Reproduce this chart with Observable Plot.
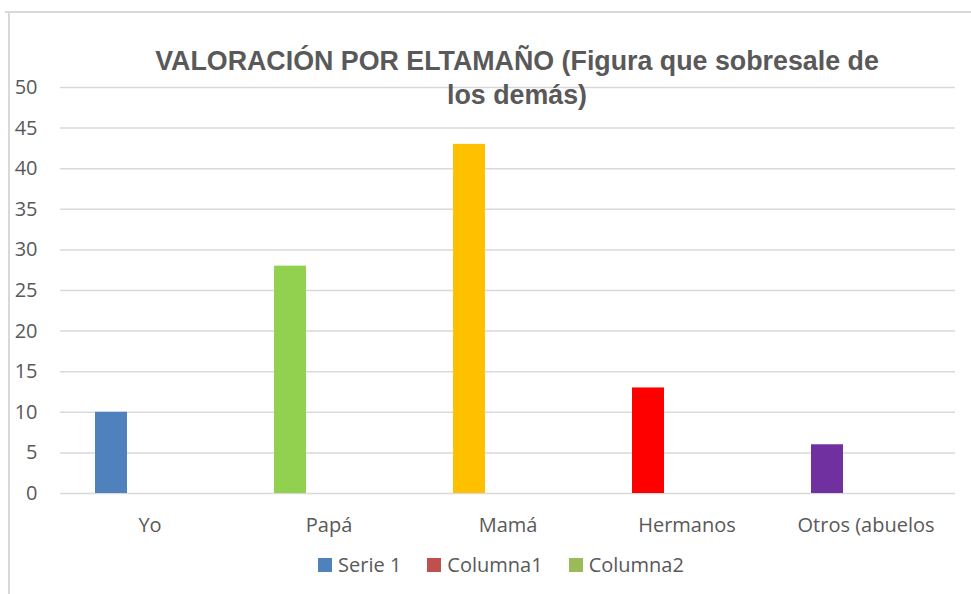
<!DOCTYPE html>
<html><head><meta charset="utf-8">
<script src="https://cdn.jsdelivr.net/npm/d3@7"></script>
<script src="https://cdn.jsdelivr.net/npm/@observablehq/plot@0.6"></script>
<style>
body{margin:0;background:#fff;}
#wrap{position:relative;width:971px;height:594px;overflow:hidden;font-family:"Open Sans",sans-serif;color:#595959;}
#chart{position:absolute;left:0;top:0;}
.bt{position:absolute;left:5px;top:11px;width:966px;height:1.5px;background:#d9d9d9;}
.bl{position:absolute;left:8px;top:11px;width:1.5px;height:583px;background:#d9d9d9;}
#title{position:absolute;left:67px;top:44px;width:900px;text-align:center;font-family:"Liberation Sans",Arial,sans-serif;font-weight:bold;font-size:26.8px;line-height:34px;color:#595959;}
#legend{position:absolute;left:0;top:551px;width:1002px;display:flex;justify-content:center;gap:26px;font-size:20px;}
#legend .it{display:flex;align-items:center;gap:6px;}
#legend .sw{width:14px;height:14px;display:inline-block;}
</style></head><body>
<div id="wrap">
<div class="bt"></div><div class="bl"></div>
<div id="chart"></div>
<div id="title">VALORACIÓN POR ELTAMAÑO (Figura que sobresale de<br>los demás)</div>
<div id="legend"></div>
</div>
<script>
const categories = ["Yo", "Papá", "Mamá", "Hermanos", "Otros (abuelos"];
const serie1 = [10, 28, 43, 13, 6];
const barColors = ["#4f81bd", "#92d050", "#ffc000", "#ff0000", "#7030a0"];
const seriesNames = ["Serie 1", "Columna1", "Columna2"];
const legendColors = ["#4f81bd", "#c0504d", "#9bbb59"];
const yTicks = [0, 5, 10, 15, 20, 25, 30, 35, 40, 45, 50];

const data = categories.map((c, i) => ({category: c, series: seriesNames[0], value: serie1[i], color: barColors[i]}));

const chart = Plot.plot({
  width: 971, height: 594,
  marginLeft: 60, marginRight: 16, marginTop: 87, marginBottom: 101,
  style: {fontSize: "20px", fontFamily: "'Open Sans', sans-serif", color: "#595959", background: "transparent"},
  fx: {domain: categories, padding: 0, label: null},
  x: {domain: seriesNames, paddingInner: 0.18, paddingOuter: 0.84, axis: null},
  y: {domain: [0, 50], label: null},
  color: {type: "identity"},
  marks: [
    Plot.gridY(yTicks, {stroke: "#d9d9d9", strokeOpacity: 1, strokeWidth: 1.5}),
    Plot.barY(data, {fx: "category", x: "series", y: "value", fill: "color"}),
    Plot.axisY(yTicks, {tickSize: 0, tickPadding: 23, label: null, fill: "#595959"}),
    Plot.axisFx({anchor: "bottom", tickSize: 0, tickPadding: 24, label: null, fill: "#595959"})
  ]
});
document.getElementById("chart").appendChild(chart);

const legend = document.getElementById("legend");
seriesNames.forEach((s, i) => {
  const it = document.createElement("span");
  it.className = "it";
  const sw = document.createElement("span");
  sw.className = "sw";
  sw.style.background = legendColors[i];
  it.appendChild(sw);
  it.appendChild(document.createTextNode(s));
  legend.appendChild(it);
});
</script>
</body></html>
